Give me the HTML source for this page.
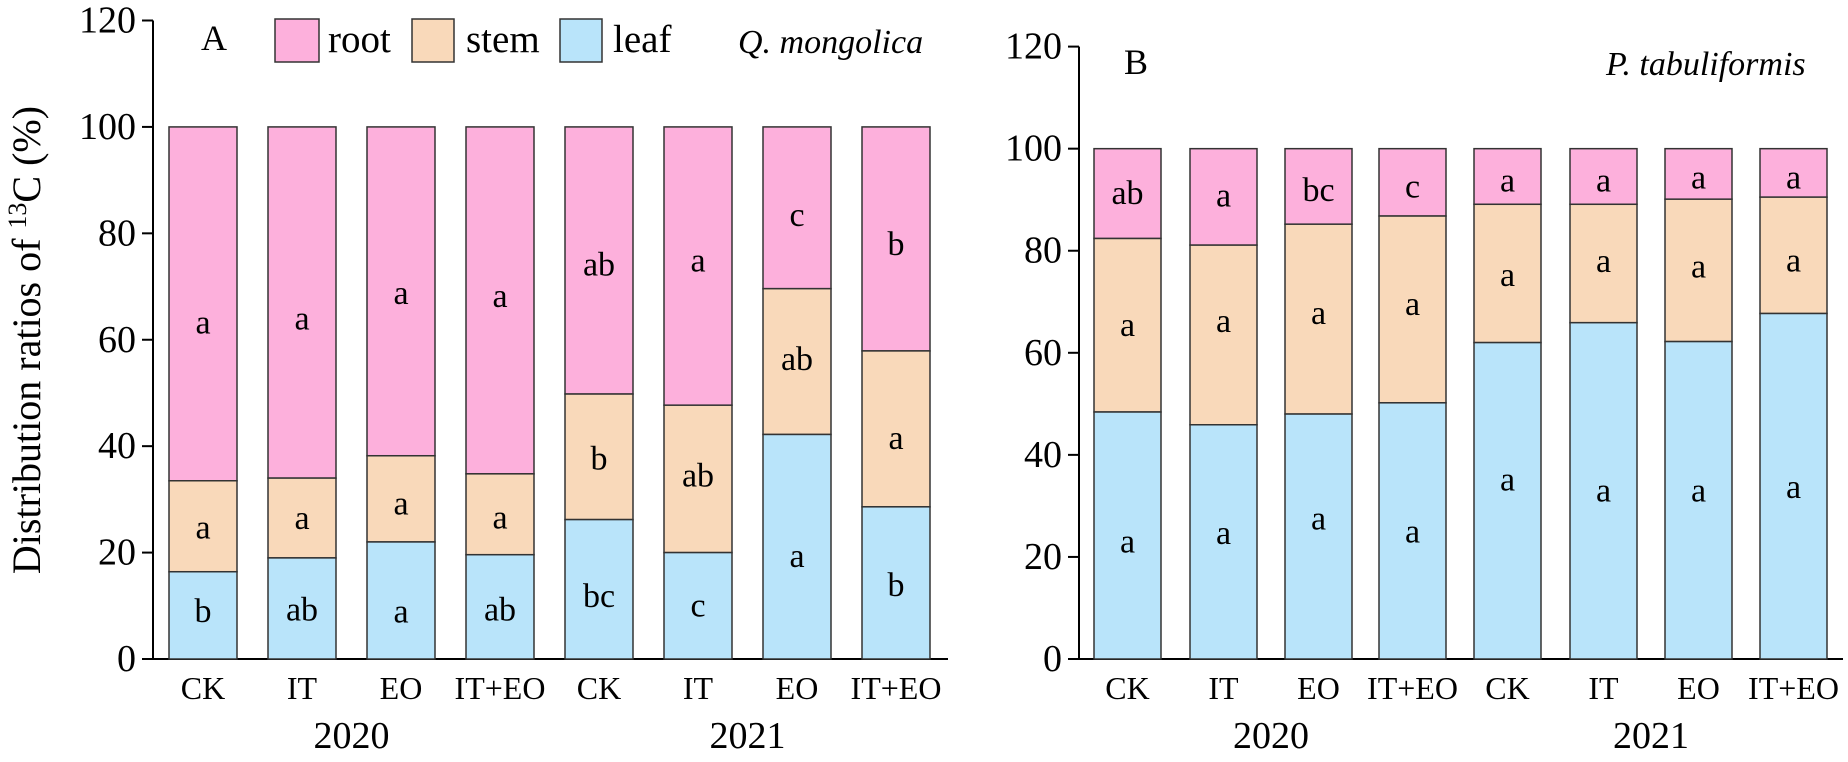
<!DOCTYPE html>
<html><head><meta charset="utf-8"><style>
html,body{margin:0;padding:0;background:#fff;}
svg{display:block;font-family:"Liberation Serif","Times New Roman",serif;}
svg text{font-family:"Liberation Serif","Times New Roman",serif;}
</style></head><body>
<svg id="s" width="1848" height="762" xmlns="http://www.w3.org/2000/svg" font-family="Liberation Serif, serif"></svg>
<script>
const S=2.058;
const P="#FDB0DC",T="#F9D9BA",L="#B9E4FA";
let h='';
function panel(ax,y0,y120,x0s,w,leaf,stem,rl,sl,ll,axEnd){
  const u=(y0-y120)/120;
  const Y=v=>y0-v*u;
  h+=`<line x1="${ax}" y1="${y120}" x2="${ax}" y2="${y0}" stroke="#000" stroke-width="2"/>`;
  h+=`<line x1="${ax}" y1="${y0}" x2="${axEnd}" y2="${y0}" stroke="#000" stroke-width="2"/>`;
  for(let v=0;v<=120;v+=20){
    h+=`<line x1="${ax-11}" y1="${Y(v)}" x2="${ax}" y2="${Y(v)}" stroke="#000" stroke-width="2"/>`;
    h+=`<text x="${ax-17}" y="${Y(v)}" font-size="38" text-anchor="end" dominant-baseline="central">${v}</text>`;
  }
  const cats=["CK","IT","EO","IT+EO","CK","IT","EO","IT+EO"];
  for(let i=0;i<8;i++){
    const x=x0s[i],c=x+w/2;
    h+=`<rect x="${x}" y="${Y(100)}" width="${w}" height="${Y(stem[i])-Y(100)}" fill="${P}" stroke="#333" stroke-width="1.5"/>`;
    h+=`<rect x="${x}" y="${Y(stem[i])}" width="${w}" height="${Y(leaf[i])-Y(stem[i])}" fill="${T}" stroke="#333" stroke-width="1.5"/>`;
    h+=`<rect x="${x}" y="${Y(leaf[i])}" width="${w}" height="${y0-Y(leaf[i])}" fill="${L}" stroke="#333" stroke-width="1.5"/>`;
    [[rl,0],[sl,1],[ll,2]].forEach(([arr,k])=>{
      h+=`<text x="${c}" y="${arr[i][1]/S}" font-size="34" text-anchor="middle" dominant-baseline="central">${arr[i][0]}</text>`;
    });
    h+=`<text x="${c}" y="688" font-size="32" text-anchor="middle" dominant-baseline="central">${cats[i]}</text>`;
  }
  const c1=(x0s[1]+x0s[2]+w)/2, c2=(x0s[5]+x0s[6]+w)/2;
  h+=`<text x="${c1}" y="736" font-size="38" text-anchor="middle" dominant-baseline="central">2020</text>`;
  h+=`<text x="${c2}" y="736" font-size="38" text-anchor="middle" dominant-baseline="central">2021</text>`;
}
const z=(a,b)=>a.map((s,i)=>[s,b[i]]);
panel(153,659,20.5,[169,268,367,466,565,664,763,862],68,
 [16.4,19.0,22,19.6,26.2,20.0,42.2,28.6],[33.5,34,38.2,34.8,49.8,47.7,69.6,57.9],
 z(["a","a","a","a","ab","a","c","b"],[665,657,604,610,545,537,443,503]),
 z(["a","a","a","a","b","ab","ab","a"],[1087,1067,1037,1066,945,980,740,902]),
 z(["b","ab","a","ab","bc","c","a","b"],[1258,1255,1260,1255,1228,1247,1145,1205]),948);
panel(1079,659,46.6,[1094,1190,1285,1379,1474,1570,1665,1760],67,
 [48.4,45.9,48.0,50.2,62.0,65.9,62.2,67.7],[82.4,81.1,85.2,86.8,89.1,89.1,90.1,90.5],
 z(["ab","a","bc","c","a","a","a","a"],[398,403,392,385,372,372,366,366]),
 z(["a","a","a","a","a","a","a","a"],[670,662,645,627,567,538,550,537]),
 z(["a","a","a","a","a","a","a","a"],[1115,1098,1068,1095,988,1010,1010,1003]),1843);
h+=`<text x="214" y="38" font-size="36" text-anchor="middle" dominant-baseline="central">A</text>`;
h+=`<rect x="275" y="19" width="44" height="43" fill="${P}" stroke="#333" stroke-width="1.5"/>`;
h+=`<text x="328" y="52" font-size="39">root</text>`;
h+=`<rect x="412" y="19" width="42" height="43" fill="${T}" stroke="#333" stroke-width="1.5"/>`;
h+=`<text x="466" y="52" font-size="39">stem</text>`;
h+=`<rect x="560" y="19" width="42" height="43" fill="${L}" stroke="#333" stroke-width="1.5"/>`;
h+=`<text x="613" y="52" font-size="39">leaf</text>`;
h+=`<text x="738" y="53" font-size="34" font-style="italic">Q. mongolica</text>`;
h+=`<text x="1136" y="62" font-size="36" text-anchor="middle" dominant-baseline="central">B</text>`;
h+=`<text x="1606" y="75" font-size="34" font-style="italic">P. tabuliformis</text>`;
h+=`<text transform="translate(40,340) rotate(-90)" font-size="40" text-anchor="middle">Distribution ratios of <tspan font-size="26" dy="-14">13</tspan><tspan dy="14">C (%)</tspan></text>`;
document.getElementById('s').innerHTML=h;
</script>
</body></html>
